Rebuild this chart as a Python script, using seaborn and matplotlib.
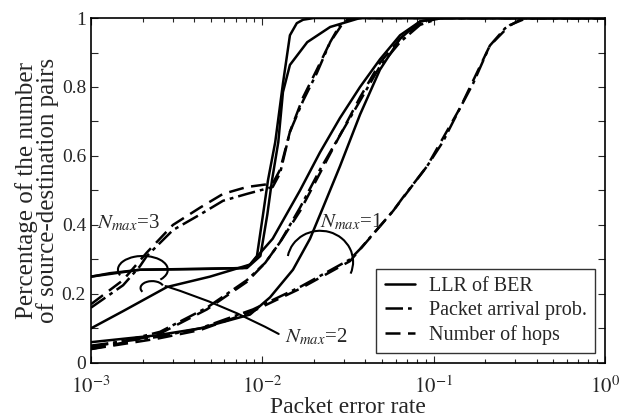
import numpy as np
import pandas as pd
import matplotlib
matplotlib.use("Agg")
import matplotlib.pyplot as plt
from matplotlib.patches import Arc
from matplotlib.lines import Line2D
import seaborn as sns

# packet error rate (x) and fraction of source-destination pairs (y)
# N_max = 3
llr3_x = [1e-3, 1.29e-3, 1.93e-3, 4.33e-3, 7.71e-3, 8.48e-3, 9.31e-3, 1.01e-2, 1.08e-2, 1.19e-2, 1.32e-2, 1.45e-2, 1.59e-2, 1.73e-2, 2.0e-2, 1.0]
llr3_y = [0.25, 0.26, 0.27, 0.272, 0.275, 0.285, 0.31, 0.43, 0.53, 0.64, 0.81, 0.95, 0.985, 0.995, 1.0, 1.0]
llr3b_x = [1e-3, 1.93e-3, 8.14e-3, 9.75e-3, 1.07e-2, 1.14e-2, 1.24e-2, 1.32e-2, 1.45e-2, 1.83e-2, 2.49e-2, 3.72e-2, 1.0]
llr3b_y = [0.25, 0.27, 0.275, 0.31, 0.43, 0.53, 0.64, 0.785, 0.864, 0.93, 0.974, 1.0, 1.0]
pap3_x = [1e-3, 1.54e-3, 1.93e-3, 2.12e-3, 3.01e-3, 4.33e-3, 5.90e-3, 8.14e-3, 1.15e-2, 1.27e-2, 1.45e-2, 1.73e-2, 2.08e-2, 2.49e-2, 2.84e-2, 3.25e-2, 1.0]
pap3_y = [0.16, 0.225, 0.28, 0.31, 0.385, 0.43, 0.47, 0.49, 0.51, 0.55, 0.67, 0.76, 0.84, 0.93, 0.98, 1.0, 1.0]
hop3_x = [1e-3, 1.54e-3, 2.12e-3, 3.01e-3, 4.33e-3, 5.90e-3, 8.14e-3, 1.15e-2, 1.27e-2, 1.45e-2, 1.73e-2, 2.08e-2, 2.49e-2, 3.0e-2, 3.4e-2, 1.0]
hop3_y = [0.17, 0.24, 0.32, 0.40, 0.45, 0.49, 0.51, 0.52, 0.56, 0.67, 0.77, 0.85, 0.93, 0.99, 1.0, 1.0]

# N_max = 2
llr2_x = [1e-3, 1.54e-3, 2.78e-3, 4.95e-3, 8.48e-3, 1.15e-2, 1.66e-2, 2.17e-2, 2.84e-2, 3.72e-2, 4.86e-2, 6.37e-2, 8.33e-2, 0.109, 1.0]
llr2_y = [0.10, 0.15, 0.22, 0.25, 0.285, 0.36, 0.50, 0.61, 0.71, 0.80, 0.88, 0.95, 0.99, 1.0, 1.0]
pap2_x = [1e-3, 1.6e-3, 2.53e-3, 4.75e-3, 8.14e-3, 1.04e-2, 1.27e-2, 1.66e-2, 2.17e-2, 2.84e-2, 3.72e-2, 4.86e-2, 6.37e-2, 8.33e-2, 0.109, 1.0]
pap2_y = [0.045, 0.065, 0.09, 0.16, 0.24, 0.29, 0.35, 0.45, 0.56, 0.66, 0.76, 0.86, 0.93, 0.98, 1.0, 1.0]
hop2_x = [1e-3, 1.6e-3, 2.53e-3, 4.75e-3, 8.14e-3, 1.04e-2, 1.27e-2, 1.66e-2, 2.17e-2, 2.84e-2, 3.72e-2, 4.86e-2, 6.37e-2, 8.33e-2, 0.109, 1.0]
hop2_y = [0.04, 0.06, 0.085, 0.155, 0.235, 0.29, 0.35, 0.44, 0.55, 0.66, 0.77, 0.87, 0.94, 0.985, 1.0, 1.0]

# N_max = 1
llr1_x = [1e-3, 2.43e-3, 4.33e-3, 8.48e-3, 1.11e-2, 1.51e-2, 1.90e-2, 2.26e-2, 2.84e-2, 3.72e-2, 4.86e-2, 6.37e-2, 8.33e-2, 0.109, 1.0]
llr1_y = [0.06, 0.08, 0.10, 0.14, 0.19, 0.27, 0.36, 0.45, 0.57, 0.72, 0.85, 0.94, 0.99, 1.0, 1.0]
pap1_x = [1e-3, 2.43e-3, 4.33e-3, 8.83e-3, 1.66e-2, 3.25e-2, 3.72e-2, 5.79e-2, 6.63e-2, 9.15e-2, 0.113, 0.143, 0.170, 0.213, 0.261, 0.333, 1.0]
pap1_y = [0.05, 0.075, 0.10, 0.155, 0.22, 0.30, 0.33, 0.44, 0.48, 0.57, 0.64, 0.74, 0.81, 0.92, 0.97, 1.0, 1.0]
hop1_x = [1e-3, 2.43e-3, 4.33e-3, 8.83e-3, 1.66e-2, 3.25e-2, 5.79e-2, 9.15e-2, 0.143, 0.213, 0.28, 0.35, 1.0]
hop1_y = [0.04, 0.07, 0.095, 0.15, 0.215, 0.295, 0.44, 0.57, 0.74, 0.92, 0.98, 1.0, 1.0]

curves = [
    (llr3_x, llr3_y, "LLR of BER"), (llr3b_x, llr3b_y, "LLR of BER"),
    (pap3_x, pap3_y, "Packet arrival prob."), (hop3_x, hop3_y, "Number of hops"),
    (llr2_x, llr2_y, "LLR of BER"), (pap2_x, pap2_y, "Packet arrival prob."), (hop2_x, hop2_y, "Number of hops"),
    (llr1_x, llr1_y, "LLR of BER"), (pap1_x, pap1_y, "Packet arrival prob."), (hop1_x, hop1_y, "Number of hops"),
]
styles = {"LLR of BER": "-", "Packet arrival prob.": (0, (7, 2, 1.5, 2)), "Number of hops": (0, (6, 3))}

sns.set_style("ticks")
plt.rcParams["font.family"] = ["Liberation Serif", "DejaVu Serif"]
plt.rcParams["mathtext.fontset"] = "stix"

fig = plt.figure(figsize=(6.23, 4.19), dpi=100)
ax = fig.add_axes([0.146, 0.134, 0.825, 0.823])

for cx, cy, metric in curves:
    sns.lineplot(x=cx, y=cy, ax=ax, color="black", lw=1.8, linestyle=styles[metric],
                 sort=False, estimator=None)

ax.set_xscale("log")
ax.set_xlim(1e-3, 1)
ax.set_ylim(0, 1)
ax.set_xticks([1e-3, 1e-2, 1e-1, 1])
ax.set_xticklabels([r"$10^{-3}$", r"$10^{-2}$", r"$10^{-1}$", r"$10^{0}$"])
yt = np.round(np.arange(0, 1.01, 0.1), 1)
ax.set_yticks(yt)
ax.set_yticklabels([("0" if v == 0 else ("1" if v == 1 else f"{v:g}")) if i % 2 == 0 else "" for i, v in enumerate(yt)])
ax.tick_params(which="both", direction="in", top=True, right=True, labelsize=14, width=0.8)
ax.tick_params(axis="x", which="major", pad=10, labelsize=15)
ax.tick_params(which="major", length=5)
ax.tick_params(which="minor", length=3)
for s in ax.spines.values():
    s.set_linewidth(1.2)
    s.set_color("black")

ax.set_xlabel("Packet error rate", fontsize=17, labelpad=-1)
ax.set_ylabel("Percentage of the number\nof source-destination pairs", fontsize=18, labelpad=2, linespacing=0.9)

# annotations
ax.text(1.08e-3, 0.405, r"$N_{max}$=3", fontsize=15, va="center", ha="left")
ax.text(2.17e-2, 0.41, r"$N_{max}$=1", fontsize=15, va="center", ha="left")
ax.text(1.36e-2, 0.075, r"$N_{max}$=2", fontsize=15, va="center", ha="left")
ax.add_patch(Arc((0.101, 0.27), 0.097, 0.08, theta1=-40, theta2=200, transform=ax.transAxes, color="k", lw=1.5))
ax.add_patch(Arc((0.446, 0.293), 0.128, 0.18, theta1=-30, theta2=165, transform=ax.transAxes, color="k", lw=1.5))
ax.add_patch(Arc((0.119, 0.217), 0.045, 0.04, theta1=20, theta2=210, transform=ax.transAxes, color="k", lw=1.5))
ax.annotate("", xy=(0.14, 0.225), xycoords="axes fraction", xytext=(0.37, 0.08), textcoords="axes fraction",
            arrowprops=dict(arrowstyle="-", color="k", lw=1.5, connectionstyle="arc3,rad=0.05"))

handles = [Line2D([], [], color="k", lw=1.8, linestyle=styles[m]) for m in styles]
leg = ax.legend(handles, list(styles), loc="lower right", fontsize=14.5, frameon=True, fancybox=False,
                edgecolor="black", handlelength=1.5, handletextpad=0.7, borderaxespad=0.5,
                labelspacing=0.25, borderpad=0.4)
leg.get_frame().set_linewidth(1.0)

fig.savefig("out.png", dpi=100)
